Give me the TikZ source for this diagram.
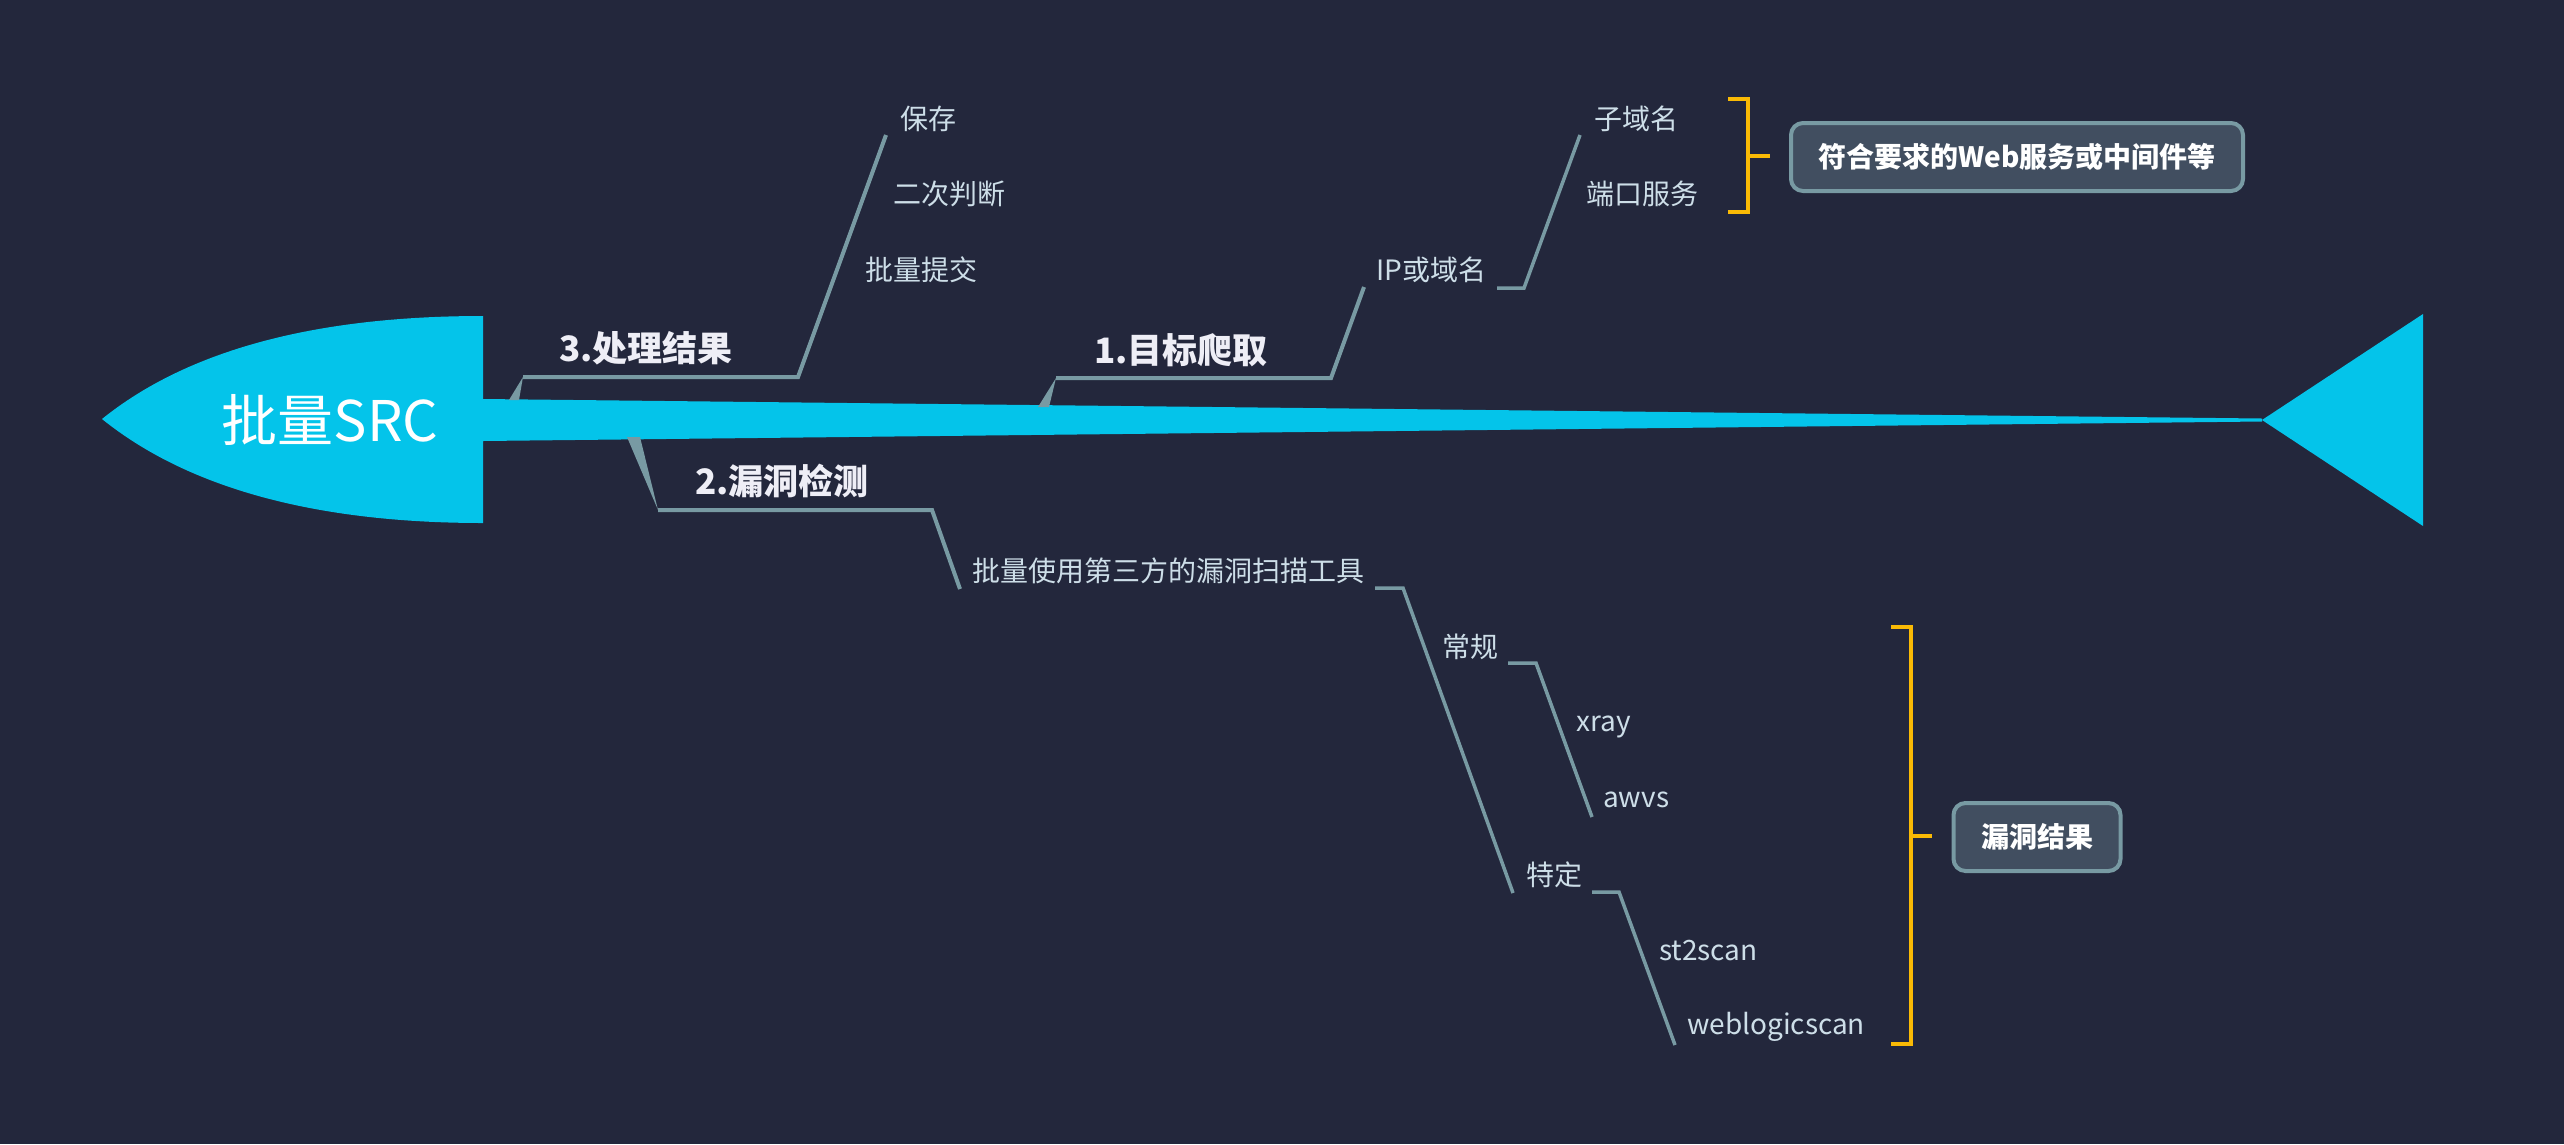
\documentclass[tikz,border=0pt]{standalone}
\usepackage{fontspec}
\setmainfont{Noto Sans CJK SC}
\definecolor{bgc}{RGB}{35,39,60}
\definecolor{cyanc}{RGB}{4,196,234}
\definecolor{branchc}{RGB}{120,154,163}
\definecolor{labelc}{RGB}{205,222,232}
\definecolor{titlec}{RGB}{238,238,246}
\definecolor{boxfill}{RGB}{65,78,96}
\definecolor{orangec}{RGB}{250,186,5}
\tikzset{
  lbl/.style={anchor=west,inner sep=0pt,yshift=-6.5pt,text height=0.88em,text depth=0.12em,text=labelc,font=\fontsize{28}{34}\selectfont},
  ttl/.style={anchor=west,inner sep=0pt,yshift=-8pt,text height=0.88em,text depth=0.12em,text=titlec,font=\fontsize{35}{42}\selectfont\bfseries},
  bline/.style={draw=branchc,line width=4pt,line join=miter},
  sline/.style={draw=branchc,line width=3.5pt,line join=miter},
  brk/.style={draw=orangec,line width=4.5pt},
  sumbox/.style={draw=branchc,line width=4pt,fill=boxfill,rounded corners=12pt,inner sep=0pt,text=white,font=\fontsize{28}{34}\selectfont\bfseries},
}
\begin{document}
\begin{tikzpicture}[x=1pt,y=-1pt]
\fill[bgc] (0,0) rectangle (2564,1144);
\useasboundingbox (0,0) rectangle (2564,1144);
% head
\fill[cyanc] (102,419) .. controls (187.3,350.3) and (314.3,316) .. (483,316) -- (483,523) .. controls (314.3,523) and (187.3,487.7) .. (102,419) -- cycle;
\node[inner sep=0pt,text=white,font=\fontsize{56}{60}\selectfont] (head) at (330,420) {批量SRC};
% spine
\fill[cyanc] (483,399) -- (2262,418.5) -- (2262,421.5) -- (483,441) -- cycle;
% tail
\fill[cyanc] (2262,420) -- (2423,314) -- (2423,526) -- cycle;

% branch 3
\coordinate (b3a) at (523,377);
\coordinate (b3b) at (798,377);
\coordinate (b3c) at (886,135);
\fill[branchc] (509,400) -- (519,400) -- (b3a) -- cycle;
\draw[bline] (b3a) -- (b3b) -- (b3c);
\node[ttl] (t3) at (559,350) {3.处理结果};
\node[lbl] (s31) at (900,119) {保存};
\node[lbl] (s32) at (893,194) {二次判断};
\node[lbl] (s33) at (865,270) {批量提交};

% branch 1
\coordinate (b1a) at (1056,378);
\coordinate (b1b) at (1331,378);
\coordinate (b1c) at (1364,287);
\fill[branchc] (1038,407) -- (1049,407) -- (b1a) -- cycle;
\draw[bline] (b1a) -- (b1b) -- (b1c);
\node[ttl] (t1) at (1094,352) {1.目标爬取};
\node[lbl] (ip) at (1376,270) {IP或域名};
\coordinate (ipa) at (1497,288);
\coordinate (ipb) at (1524,288);
\coordinate (ipc) at (1580,135);
\draw[sline] (ipa) -- (ipb) -- (ipc);
\node[lbl] (sub) at (1594,119) {子域名};
\node[lbl] (port) at (1586,194) {端口服务};
\coordinate (k1t) at (1748,99);
\coordinate (k1b) at (1748,212);
\coordinate (k1m) at (1748,156);
\draw[brk] (1728,99) -- (k1t) -- (k1b) -- (1728,212);
\draw[brk] (k1m) -- (1770,156);
\node[sumbox,minimum width=452pt,minimum height=68pt] (web) at (2017,157) {符合要求的Web服务或中间件等};

% branch 2
\coordinate (b2a) at (658,510);
\coordinate (b2b) at (932,510);
\coordinate (b2c) at (960,589);
\fill[branchc] (627,437) -- (640,437) -- (b2a) -- cycle;
\draw[bline] (b2a) -- (b2b) -- (b2c);
\node[ttl] (t2) at (695,483) {2.漏洞检测};
\node[lbl] (tool) at (972,571) {批量使用第三方的漏洞扫描工具};
\coordinate (ta) at (1375,588);
\coordinate (tb) at (1403,588);
\coordinate (tc) at (1513,893);
\draw[sline] (ta) -- (tb) -- (tc);
\node[lbl] (cg) at (1442,647) {常规};
\coordinate (ca) at (1508,663);
\coordinate (cb) at (1536,663);
\coordinate (cc) at (1592,817);
\draw[sline] (ca) -- (cb) -- (cc);
\node[lbl] (xray) at (1576,721) {xray};
\node[lbl] (awvs) at (1603,797) {awvs};
\node[lbl] (td) at (1526,875) {特定};
\coordinate (da) at (1592,892);
\coordinate (db) at (1619,892);
\coordinate (dc) at (1675,1045);
\draw[sline] (da) -- (db) -- (dc);
\node[lbl] (st2) at (1659,950) {st2scan};
\node[lbl] (wl) at (1687,1024) {weblogicscan};
\coordinate (k2t) at (1911,627);
\coordinate (k2b) at (1911,1044);
\coordinate (k2m) at (1911,836);
\draw[brk] (1891,627) -- (k2t) -- (k2b) -- (1891,1044);
\draw[brk] (k2m) -- (1932,836);
\node[sumbox,minimum width=167pt,minimum height=68pt] (vr) at (2037,837) {漏洞结果};
\end{tikzpicture}
\end{document}
